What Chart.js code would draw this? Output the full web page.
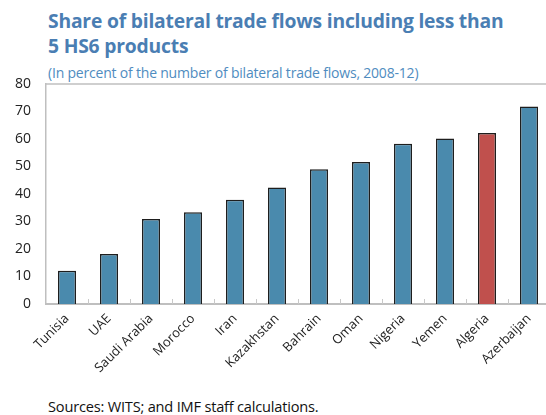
<!DOCTYPE html>
<html>
<head>
<meta charset="utf-8">
<script src="https://cdn.jsdelivr.net/npm/chart.js@4"></script>
<style>
  html, body { margin: 0; padding: 0; background: #fff; width: 546px; height: 415px; overflow: hidden; }
  body { position: relative; font-family: "Open Sans", sans-serif; }
  #title { position: absolute; left: 48px; top: 8px; font-size: 19.3px; font-weight: 700; color: #4a7eb3; line-height: 25px; letter-spacing: -0.2px; }
  #subtitle { position: absolute; left: 48px; top: 63px; font-size: 14px; color: #4f8cc0; letter-spacing: -0.2px; }
  #source { position: absolute; left: 48px; top: 396px; font-size: 14.6px; color: #111; letter-spacing: -0.2px; }
  #wrap { position: absolute; left: 0; top: 60px; width: 552px; height: 330px; }
</style>
</head>
<body>
<div id="title">Share of bilateral trade flows including less than<br>5 HS6 products</div>
<div id="subtitle">(In percent of the number of bilateral trade flows, 2008-12)</div>
<div id="wrap"><canvas id="chart"></canvas></div>
<div id="source">Sources: WITS; and IMF staff calculations.</div>
<script>
const countries = ['Tunisia', 'UAE', 'Saudi Arabia', 'Morocco', 'Iran', 'Kazakhstan',
                   'Bahrain', 'Oman', 'Nigeria', 'Yemen', 'Algeria', 'Azerbaijan'];
const shares = [12.1, 18.2, 30.9, 33.4, 37.9, 42.4, 49.0, 51.6, 58.3, 60.2, 62.2, 71.8];
const highlight = 'Algeria';

const barColors = countries.map(c => c === highlight ? '#c0504d' : '#4a8aad');

// frame line on top plus small inward tick marks between categories
const frame = {
    id: 'frame',
    afterDatasetsDraw(chart) {
        const ctx = chart.ctx;
        const area = chart.chartArea;
        const x = chart.scales.x;
        ctx.save();
        ctx.strokeStyle = '#bfbfbf';
        ctx.lineWidth = 1.5;
        ctx.beginPath();
        ctx.moveTo(area.left, area.top);
        ctx.lineTo(area.right, area.top);
        ctx.stroke();
        ctx.strokeStyle = '#c8c8c8';
        ctx.lineWidth = 1;
        for (let i = 1; i < countries.length; i++) {
            const px = Math.round((x.getPixelForValue(i - 1) + x.getPixelForValue(i)) / 2) + 0.5;
            ctx.beginPath();
            ctx.moveTo(px, area.bottom);
            ctx.lineTo(px, area.bottom - 5);
            ctx.stroke();
        }
        ctx.restore();
    }
};

new Chart(document.getElementById('chart').getContext('2d'), {
    type: 'bar',
    data: {
        labels: countries,
        datasets: [{
            data: shares,
            backgroundColor: barColors,
            borderColor: '#1e1e1e',
            borderWidth: 1.5,
            borderSkipped: 'bottom',
            categoryPercentage: 1,
            barPercentage: 0.43
        }]
    },
    options: {
        responsive: true,
        maintainAspectRatio: false,
        animation: false,
        layout: { padding: { top: 24, right: 2, left: 0, bottom: 0 } },
        plugins: {
            legend: { display: false },
            tooltip: { enabled: false }
        },
        scales: {
            x: {
                grid: { display: false, drawTicks: false },
                border: { color: '#bfbfbf', width: 2 },
                ticks: {
                    color: '#222',
                    font: { family: 'Open Sans', size: 13 },
                    minRotation: 45,
                    maxRotation: 45,
                    padding: 7
                },
                afterFit: scale => { scale.height = 86; }
            },
            y: {
                min: 0,
                max: 80,
                grid: { display: false, drawTicks: false },
                border: { color: '#bfbfbf', width: 1.5 },
                ticks: {
                    stepSize: 10,
                    color: '#222',
                    font: { family: 'Open Sans', size: 14 },
                    padding: 15
                },
                afterFit: scale => { scale.width = 46; }
            }
        }
    },
    plugins: [frame]
});
</script>
</body>
</html>
